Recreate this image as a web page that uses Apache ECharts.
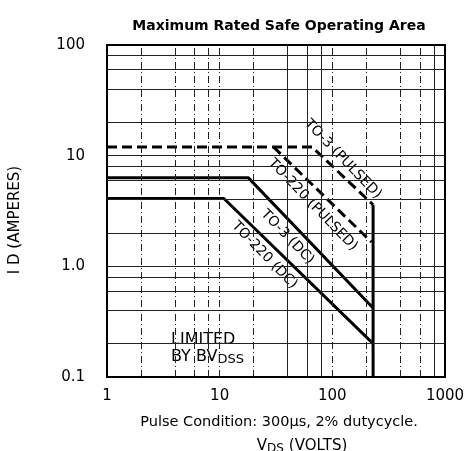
<!DOCTYPE html>
<html><head><meta charset="utf-8">
<script src="https://cdn.jsdelivr.net/npm/echarts@6/dist/echarts.min.js"></script>
<style>html,body{margin:0;padding:0;background:#fff}#c{width:468px;height:451px}</style>
</head><body><div id="c"></div>
<script>
// ---- data ----
const xTicks = [1, 10, 100, 1000];
const xTickLabels = ['1', '10', '100', '1000'];
const yTicks = [0.1, 1, 10, 100];
const yTickLabels = ['0.1', '1.0', '10', '100'];
const xGridValues = [2, 4, 6, 8, 10, 20, 40, 60, 80, 100, 200, 400, 600, 800];
const xGridDashed = [1, 1, 1, 1, 1, 1, 0, 0, 0, 1, 1, 1, 1, 0];
const yGridValues = [0.2, 0.4, 0.6, 0.8, 1, 2, 4, 6, 8, 10, 20, 40, 60, 80];

const to3PulsedV = [1, 66, 230];
const to3PulsedI = [12, 12, 3.6];
const to220PulsedV = [30, 222];
const to220PulsedI = [12, 1.66];
const to3DcV = [1, 18, 230];
const to3DcI = [6.3, 6.3, 0.42];
const to220DcV = [1, 10.9, 230];
const to220DcI = [4.1, 4.1, 0.2];
const bvdssV = [230, 230];
const bvdssI = [3.6, 0.1];

const annoText = ['TO-3 (PULSED)', 'TO-220 (PULSED)', 'TO-3 (DC)', 'TO-220 (DC)'];
const annoV = [124, 67, 40, 25];
const annoI = [9.3, 3.6, 1.84, 1.26];

const limitedV = 3.7;
const limitedI = 0.18;

// ---- chart ----
const FONT = 'DejaVu Sans';
const zip = (a, b) => a.map((v, i) => [v, b[i]]);
const chart = echarts.init(document.getElementById('c'), null, {renderer: 'canvas'});

function tickLabel(v, ticks, labels) {
  const lv = Math.log10(v);
  for (let i = 0; i < ticks.length; i++) if (Math.abs(Math.log10(ticks[i]) - lv) < 1e-6) return labels[i];
  return '';
}

const thick = {color: '#000', width: 3};
const txt = (size) => ({fontFamily: FONT, fontSize: size, fontWeight: 'normal', color: '#000',
  textBorderWidth: 0, textShadowBlur: 0, opacity: 1});

chart.setOption({
  animation: false,
  backgroundColor: '#fff',
  title: [
    {text: 'Maximum Rated Safe Operating Area', left: 274, textAlign: 'center', top: 14,
      textStyle: {fontFamily: FONT, fontSize: 14, fontWeight: 'bold', color: '#000'}},
    {text: 'Pulse Condition: 300\u00b5s, 2% dutycycle.', left: 274, textAlign: 'center', top: 410,
      textStyle: txt(14.5)},
    {text: '{n|V}{s|DS} {n|(VOLTS)}', left: 297, textAlign: 'center', top: 432,
      textStyle: {fontWeight: 'normal', rich: {n: txt(15),
        s: Object.assign(txt(12), {padding: [5, 0, 0, 0]})}}}
  ],
  grid: {left: 107, right: 23, top: 45, bottom: 74, show: true, borderColor: '#000', borderWidth: 2},
  xAxis: {
    type: 'log', logBase: 10, min: 1, max: 1000,
    axisLine: {show: false}, axisTick: {show: false}, splitLine: {show: false},
    axisLabel: Object.assign(txt(15), {margin: 12, formatter: v => tickLabel(v, xTicks, xTickLabels)})
  },
  yAxis: {
    type: 'log', logBase: 10, min: 0.1, max: 100,
    axisLine: {show: false}, axisTick: {show: false}, splitLine: {show: false},
    axisLabel: Object.assign(txt(15), {margin: 22, formatter: v => tickLabel(v, yTicks, yTickLabels)}),
    name: '{n|I D (AMPERES)}', nameLocation: 'middle', nameGap: 84, nameRotate: 90,
    nameTextStyle: {padding: [0, 18, 0, 0], rich: {n: txt(15)}}
  },
  series: [
    {type: 'line', name: 'grid', data: [], silent: true,
      markLine: {silent: true, symbol: 'none', label: {show: false}, animation: false,
        data: xGridValues.map((v, i) => ({xAxis: v,
          lineStyle: {color: '#222', width: 1, type: xGridDashed[i] ? [7, 3, 1, 3] : 'solid'}}))
          .concat(yGridValues.map(v => ({yAxis: v, lineStyle: {color: '#222', width: 1, type: 'solid'}})))}},
    {type: 'line', name: 'TO-3 (PULSED)', data: zip(to3PulsedV, to3PulsedI), symbol: 'none',
      lineStyle: {color: '#000', width: 3, type: [10, 5]}},
    {type: 'line', name: 'TO-220 (PULSED)', data: zip(to220PulsedV, to220PulsedI), symbol: 'none',
      lineStyle: {color: '#000', width: 3, type: [10, 5]}},
    {type: 'line', name: 'TO-3 (DC)', data: zip(to3DcV, to3DcI), symbol: 'none', lineStyle: thick},
    {type: 'line', name: 'TO-220 (DC)', data: zip(to220DcV, to220DcI), symbol: 'none', lineStyle: thick},
    {type: 'line', name: 'BVDSS', data: zip(bvdssV, bvdssI), symbol: 'none', lineStyle: thick},
    {type: 'scatter', name: 'labels', symbolSize: 0, silent: true, itemStyle: {opacity: 1, color: '#000'},
      data: annoText.map((t, i) => ({value: [annoV[i], annoI[i]], name: t})),
      label: Object.assign(txt(14), {show: true, position: 'inside', rotate: -46, formatter: p => p.name})},
    {type: 'scatter', name: 'limited', symbolSize: 0, silent: true, itemStyle: {opacity: 1, color: '#000'},
      data: [{value: [limitedV, limitedI]}],
      label: Object.assign(txt(16), {show: true, position: 'inside', align: 'left',
        formatter: '{n|LIMITED}\n{n|BY BV}{s|DSS}',
        rich: {n: Object.assign(txt(16), {lineHeight: 17}),
          s: Object.assign(txt(13), {lineHeight: 17, padding: [4, 0, 0, 0]})}})}
  ]
});
</script></body></html>
